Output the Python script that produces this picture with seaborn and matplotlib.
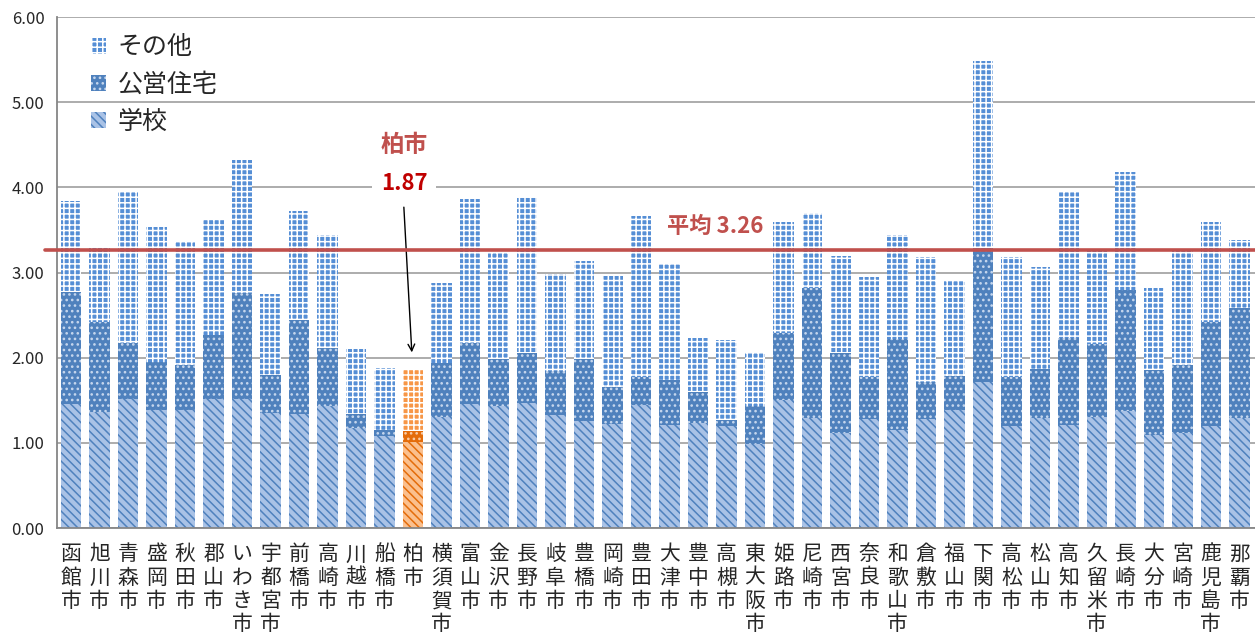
import numpy as np
import pandas as pd
import matplotlib
matplotlib.use("Agg")
import matplotlib.pyplot as plt
import seaborn as sns
from matplotlib.patches import Patch

# ---- data ----
cities = ["函館市", "旭川市", "青森市", "盛岡市", "秋田市", "郡山市", "いわき市", "宇都宮市",
          "前橋市", "高崎市", "川越市", "船橋市", "柏市", "横須賀市", "富山市", "金沢市",
          "長野市", "岐阜市", "豊橋市", "岡崎市", "豊田市", "大津市", "豊中市", "高槻市",
          "東大阪市", "姫路市", "尼崎市", "西宮市", "奈良市", "和歌山市", "倉敷市", "福山市",
          "下関市", "高松市", "松山市", "高知市", "久留米市", "長崎市", "大分市", "宮崎市",
          "鹿児島市", "那覇市"]
school = [1.46, 1.36, 1.51, 1.39, 1.39, 1.51, 1.51, 1.35, 1.34, 1.43, 1.17, 1.08, 1.01, 1.30,
          1.46, 1.43, 1.47, 1.33, 1.26, 1.22, 1.44, 1.21, 1.23, 1.20, 0.99, 1.50, 1.29, 1.12,
          1.28, 1.15, 1.28, 1.39, 1.72, 1.20, 1.29, 1.21, 1.30, 1.37, 1.09, 1.12, 1.20, 1.29]
koei = [1.31, 1.06, 0.66, 0.56, 0.52, 0.76, 1.25, 0.45, 1.10, 0.68, 0.17, 0.07, 0.13, 0.64,
        0.71, 0.55, 0.58, 0.51, 0.72, 0.44, 0.33, 0.53, 0.37, 0.07, 0.44, 0.79, 1.53, 0.93,
        0.49, 1.07, 0.44, 0.39, 1.57, 0.57, 0.58, 1.02, 0.86, 1.42, 0.77, 0.79, 1.22, 1.29]
other = [1.07, 0.88, 1.77, 1.58, 1.45, 1.36, 1.56, 0.95, 1.28, 1.33, 0.76, 0.73, 0.73, 0.94,
         1.69, 1.26, 1.84, 1.14, 1.15, 1.30, 1.89, 1.36, 0.63, 0.94, 0.64, 1.30, 0.88, 1.14,
         1.18, 1.22, 1.46, 1.13, 2.19, 1.41, 1.19, 1.71, 1.12, 1.39, 0.96, 1.34, 1.17, 0.80]
series_names = ["その他", "公営住宅", "学校"]
highlight = "柏市"
average = 3.26

df = pd.DataFrame({"city": cities, "school": school, "koei": koei, "other": other})
df["mid"] = df["school"] + df["koei"]
df["total"] = df["mid"] + df["other"]
n = len(df)
hi = cities.index(highlight)

sns.set_theme(style="white")
plt.rcParams["font.family"] = ["Noto Sans CJK JP", "DejaVu Sans"]
plt.rcParams["hatch.linewidth"] = 1.1

fig, ax = plt.subplots(figsize=(12.55, 6.44), dpi=100)
fig.subplots_adjust(left=0.0454, right=1.0, bottom=0.18, top=0.9736)

# stacked bars: draw cumulative heights from top layer down
for col in ["total", "mid", "school"]:
    sns.barplot(data=df, x="city", y=col, color="#4F81BD", width=0.72,
                errorbar=None, ax=ax)

# styles per layer: (facecolor, hatch colour, hatch)
blue = {"total": ("#558ED5", "white", "+++"),
        "mid": ("#4F81BD", "#C6D7EE", "..."),
        "school": ("#A9C2E6", "#4F81BD", "\\\\\\\\")}
orange = {"total": ("#F79646", "white", "+++"),
          "mid": ("#E46C0A", "#F8CBA6", "..."),
          "school": ("#FBC08E", "#E46C0A", "\\\\\\\\")}
for k, col in enumerate(["total", "mid", "school"]):
    for i in range(n):
        p = ax.patches[k * n + i]
        fc, hc, h = (orange if i == hi else blue)[col]
        p.set_facecolor(fc)
        p.set_edgecolor(hc)
        p.set_hatch(h)
        p.set_linewidth(0)

# average line
ax.axhline(average, xmin=-0.01, xmax=1, color="#C0504D", lw=2.6, clip_on=False, zorder=5)
ax.text(22.6, average + 0.28, f"平均 {average:.2f}", color="#C0504D", fontsize=16,
        fontweight="bold", ha="center", va="center")

# highlight annotation
ktot = df.loc[hi, "total"]
ax.text(hi - 0.32, 4.50, highlight, color="#C0504D", fontsize=17, fontweight="bold",
        ha="center", va="center")
ax.text(hi - 0.32, 4.05, f"{ktot:.2f}", color="#C00000", fontsize=16, fontweight="bold",
        ha="center", va="center", bbox=dict(facecolor="white", edgecolor="none", pad=6))
ax.annotate("", xy=(hi - 0.04, ktot + 0.16), xytext=(hi - 0.33, 3.80),
            arrowprops=dict(arrowstyle="->", color="black", lw=1))

# axes
ax.set_xlim(-0.5, n - 0.45)
ax.set_ylim(0, 6)
ax.set_yticks(np.arange(0, 7, 1))
ax.set_yticklabels([f"{v:.2f}" for v in np.arange(0, 7, 1)], fontsize=12)
ax.set_xticks(range(n))
ax.set_xticklabels(["\n".join(c) for c in cities], fontsize=15, linespacing=1.08, va="top")
ax.set_xticks(np.arange(-0.5, n, 1), minor=True)
ax.tick_params(axis="x", which="major", length=0, pad=11)
ax.tick_params(axis="x", which="minor", length=5, color="#868686", width=1.2, direction="out")
ax.tick_params(axis="y", length=5, color="#A6A6A6", width=1.2, direction="out", pad=4)
ax.set_xlabel("")
ax.set_ylabel("")
ax.yaxis.grid(True, color="#A6A6A6", lw=1.3)
ax.set_axisbelow(True)
sns.despine(ax=ax, top=True, right=True)
for s in ["left", "bottom"]:
    ax.spines[s].set_color("#868686")
    ax.spines[s].set_linewidth(1.3)

handles = [Patch(facecolor=blue[c][0], edgecolor=blue[c][1], hatch=blue[c][2], linewidth=0)
           for c in ["total", "mid", "school"]]
ax.legend(handles, series_names, loc="upper left", bbox_to_anchor=(0.01, 1.01),
          frameon=False, fontsize=18, handlelength=0.6, handleheight=0.6,
          handletextpad=0.45, labelspacing=0.45)

fig.savefig("out.png", dpi=100)
